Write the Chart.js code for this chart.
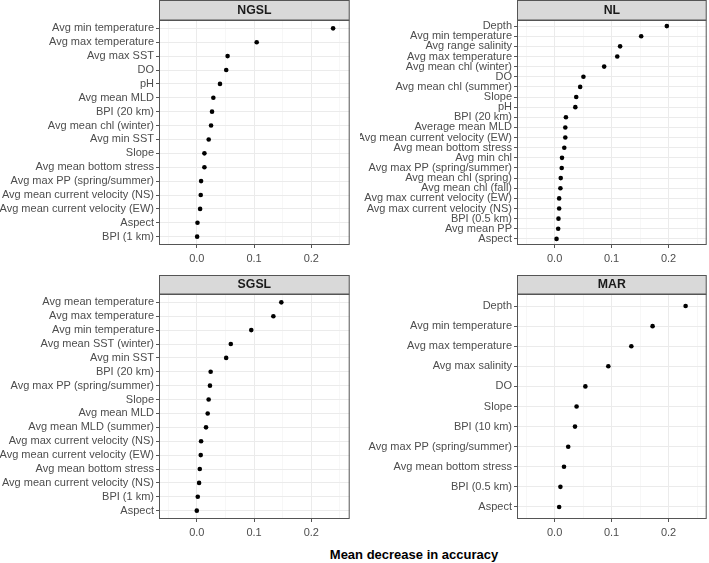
<!DOCTYPE html>
<html>
<head>
<meta charset="utf-8">
<script src="https://cdn.jsdelivr.net/npm/chart.js@4"></script>
<style>
  html, body { margin: 0; padding: 0; background: #fff; }
  body { width: 709px; height: 563px; position: relative; overflow: hidden; font-family: "Liberation Sans", Arial, sans-serif; }
  canvas { position: absolute; }
  #xtitle { position: absolute; top: 547px; left: 414px; transform: translateX(-50%); font-weight: bold; font-size: 13px; line-height: 16px; color: #000; white-space: nowrap; }
</style>
</head>
<body>
<canvas id="c0" width="352" height="265" style="left:0;top:0"></canvas>
<canvas id="c1" width="349" height="265" style="left:360px;top:0"></canvas>
<canvas id="c2" width="352" height="264" style="left:0;top:275px"></canvas>
<canvas id="c3" width="349" height="264" style="left:360px;top:275px"></canvas>
<div id="xtitle">Mean decrease in accuracy</div>
<script>
// ---------- data ----------
const panelNames = ['NGSL', 'NL', 'SGSL', 'MAR'];
const xAxisTitle = 'Mean decrease in accuracy';

const ngslVars = ['Avg min temperature', 'Avg max temperature', 'Avg max SST', 'DO', 'pH', 'Avg mean MLD',
  'BPI (20 km)', 'Avg mean chl (winter)', 'Avg min SST', 'Slope', 'Avg mean bottom stress',
  'Avg max PP (spring/summer)', 'Avg mean current velocity (NS)', 'Avg mean current velocity (EW)', 'Aspect', 'BPI (1 km)'];
const ngslValues = [0.238, 0.1046, 0.0538, 0.0514, 0.0405, 0.0289, 0.0266, 0.0249, 0.0208, 0.0133, 0.0133,
  0.0075, 0.0069, 0.0058, 0.0012, 0.0006];

const nlVars = ['Depth', 'Avg min temperature', 'Avg range salinity', 'Avg max temperature', 'Avg mean chl (winter)', 'DO',
  'Avg mean chl (summer)', 'Slope', 'pH', 'BPI (20 km)', 'Average mean MLD', 'Avg mean current velocity (EW)',
  'Avg mean bottom stress', 'Avg min chl', 'Avg max PP (spring/summer)', 'Avg mean chl (spring)', 'Avg mean chl (fall)',
  'Avg max current velocity (EW)', 'Avg max current velocity (NS)', 'BPI (0.5 km)', 'Avg mean PP', 'Aspect'];
const nlValues = [0.197, 0.152, 0.115, 0.110, 0.087, 0.0506, 0.0449, 0.038, 0.0364, 0.0199, 0.0188, 0.0188,
  0.017, 0.013, 0.0125, 0.0108, 0.0102, 0.008, 0.008, 0.0068, 0.0063, 0.0034];

const sgslVars = ['Avg mean temperature', 'Avg max temperature', 'Avg min temperature', 'Avg mean SST (winter)', 'Avg min SST',
  'BPI (20 km)', 'Avg max PP (spring/summer)', 'Slope', 'Avg mean MLD', 'Avg mean MLD (summer)',
  'Avg max current velocity (NS)', 'Avg mean current velocity (EW)', 'Avg mean bottom stress',
  'Avg mean current velocity (NS)', 'BPI (1 km)', 'Aspect'];
const sgslValues = [0.1476, 0.1337, 0.0951, 0.0594, 0.0513, 0.0242, 0.023, 0.0207, 0.019, 0.0161,
  0.0075, 0.0069, 0.0052, 0.004, 0.0017, 0.0];

const marVars = ['Depth', 'Avg min temperature', 'Avg max temperature', 'Avg max salinity', 'DO', 'Slope',
  'BPI (10 km)', 'Avg max PP (spring/summer)', 'Avg mean bottom stress', 'BPI (0.5 km)', 'Aspect'];
const marValues = [0.230, 0.172, 0.1347, 0.0943, 0.054, 0.0386, 0.0358, 0.0239, 0.0165, 0.0102, 0.008];

const xMajorTicks = [0, 0.1, 0.2];
const xTickLabels = ['0.0', '0.1', '0.2'];
const xMinorTicks = [-0.05, 0.05, 0.15, 0.25];
const xMin = -0.066, xMax = 0.267;

// ---------- styling ----------
const FONT = '"Liberation Sans", Arial, sans-serif';
const TICK_COL = '#4D4D4D';
const FRAME_COL = '#555555';
const GRID_MAJOR = '#EBEBEB';
const GRID_MINOR = '#F3F3F3';

const stripPlugin = {
  id: 'facetStrip',
  beforeDraw(chart, args, opts) {
    const { ctx, chartArea: a } = chart;
    const h = opts.height;
    ctx.save();
    ctx.fillStyle = '#D9D9D9';
    ctx.fillRect(a.left, a.top - h, a.right - a.left, h);
    ctx.strokeStyle = FRAME_COL;
    ctx.lineWidth = 1;
    ctx.strokeRect(a.left + 0.5, a.top - h + 0.5, a.right - a.left - 1, h - 0.5);
    ctx.fillStyle = '#1A1A1A';
    ctx.font = 'bold 12.3px ' + FONT;
    ctx.textAlign = 'center';
    ctx.textBaseline = 'middle';
    ctx.fillText(opts.text, (a.left + a.right) / 2, a.top - h / 2 + 0.5);
    ctx.restore();
  },
  afterDatasetsDraw(chart) {
    const { ctx, chartArea: a } = chart;
    ctx.save();
    ctx.strokeStyle = FRAME_COL;
    ctx.lineWidth = 1;
    ctx.strokeRect(a.left + 0.5, a.top + 0.5, a.right - a.left - 1, a.bottom - a.top - 1);
    ctx.restore();
  }
};

function isMajor(v) {
  return xMajorTicks.some(t => Math.abs(t - v) < 1e-9);
}

function makePanel(id, name, vars, values, yWidth, padTop, padRight) {
  const n = vars.length;
  new Chart(document.getElementById(id), {
    type: 'scatter',
    data: {
      datasets: [{
        data: values.map((v, i) => ({ x: v, y: i })),
        backgroundColor: '#000',
        borderWidth: 0,
        pointRadius: 2.3,
        pointHoverRadius: 2.3
      }]
    },
    options: {
      responsive: false,
      animation: false,
      devicePixelRatio: 1,
      layout: { padding: { top: padTop, right: padRight, left: 0, bottom: 0 } },
      plugins: {
        legend: { display: false },
        tooltip: { enabled: false },
        facetStrip: { text: name, height: padTop }
      },
      scales: {
        x: {
          type: 'linear',
          min: xMin,
          max: xMax,
          afterFit(s) { s.height = 20; },
          afterBuildTicks(s) {
            s.ticks = xMinorTicks.concat(xMajorTicks).sort((a, b) => a - b).map(v => ({ value: v }));
          },
          ticks: {
            autoSkip: false,
            maxRotation: 0,
            padding: 4,
            color: TICK_COL,
            font: { family: FONT, size: 11 },
            callback(v) {
              const k = xMajorTicks.findIndex(t => Math.abs(t - v) < 1e-9);
              return k >= 0 ? xTickLabels[k] : '';
            }
          },
          grid: {
            color: c => isMajor(c.tick.value) ? GRID_MAJOR : GRID_MINOR,
            lineWidth: c => isMajor(c.tick.value) ? 1 : 0.7,
            drawTicks: true,
            tickLength: 3,
            tickColor: c => isMajor(c.tick.value) ? FRAME_COL : 'rgba(0,0,0,0)'
          },
          border: { display: false }
        },
        y: {
          type: 'linear',
          reverse: true,
          min: -0.6,
          max: n - 1 + 0.6,
          afterFit(s) { s.width = yWidth; },
          afterBuildTicks(s) {
            s.ticks = vars.map((_, i) => ({ value: i }));
          },
          ticks: {
            autoSkip: false,
            padding: 2,
            color: TICK_COL,
            font: { family: FONT, size: 11 },
            callback(v) { return vars[Math.round(v)]; }
          },
          grid: {
            color: GRID_MAJOR,
            lineWidth: 1,
            drawTicks: true,
            tickLength: 3,
            tickColor: FRAME_COL
          },
          border: { display: false }
        }
      }
    },
    plugins: [stripPlugin]
  });
}

makePanel('c0', panelNames[0], ngslVars, ngslValues, 159, 20, 1);
makePanel('c1', panelNames[1], nlVars, nlValues, 157, 20, 1);
makePanel('c2', panelNames[2], sgslVars, sgslValues, 159, 19, 1);
makePanel('c3', panelNames[3], marVars, marValues, 157, 19, 1);
document.getElementById('xtitle').textContent = xAxisTitle;
</script>
</body>
</html>
